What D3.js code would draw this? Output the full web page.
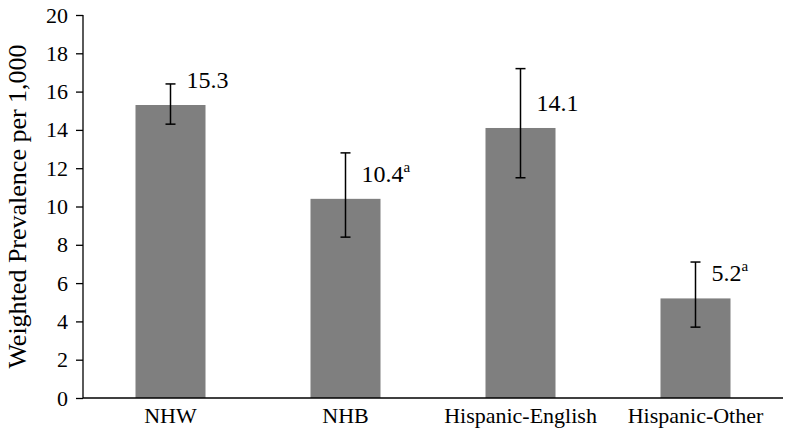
<!DOCTYPE html>
<html>
<head>
<meta charset="utf-8">
<script src="https://cdn.jsdelivr.net/npm/d3@7"></script>
<style>
  body { margin: 0; background: #fff; }
</style>
</head>
<body>
<svg id="chart"></svg>
<script>
const categories = ['NHW', 'NHB', 'Hispanic-English', 'Hispanic-Other']
const prevalence = [15.3, 10.4, 14.1, 5.2]
const lowerCI = [14.3, 8.4, 11.5, 3.7]
const upperCI = [16.4, 12.8, 17.2, 7.1]
const superscripts = ['', 'a', '', 'a']
const yTicks = [0, 2, 4, 6, 8, 10, 12, 14, 16, 18, 20]

const width = 786
const height = 432
const margin = { top: 15, right: 3, bottom: 34, left: 83 }
const serif = "'Liberation Serif', 'Times New Roman', Times, 'DejaVu Serif', serif"

const svg = d3.select('#chart').attr('width', width).attr('height', height)

const x = d3.scaleBand()
  .domain(categories)
  .range([margin.left, width - margin.right])
  .paddingInner(0.6)
  .paddingOuter(0.3)

const y = d3.scaleLinear()
  .domain([0, 20])
  .range([height - margin.bottom, margin.top])

const rows = categories.map((c, i) => ({
  cat: c, val: prevalence[i], lo: lowerCI[i], hi: upperCI[i], sup: superscripts[i]
}))

// bars
svg.append('g').selectAll('rect').data(rows).enter().append('rect')
  .attr('x', d => x(d.cat))
  .attr('y', d => y(d.val))
  .attr('width', x.bandwidth())
  .attr('height', d => y(0) - y(d.val))
  .attr('fill', '#7f7f7f')

// y axis
const yAxis = svg.append('g')
  .attr('transform', `translate(${margin.left},0)`)
  .call(d3.axisLeft(y).tickValues(yTicks).tickSize(7).tickPadding(8))
yAxis.attr('font-family', null).attr('font-size', null)
yAxis.selectAll('path, line').attr('stroke', '#000').attr('stroke-width', 1.3)
yAxis.select('.domain').attr('d', `M0,${y(20)}V${y(0)}`)
yAxis.selectAll('text').style('font-size', '22px').style('font-family', serif).attr('fill', '#000')

// x axis
const xAxis = svg.append('g')
  .attr('transform', `translate(0,${y(0)})`)
  .call(d3.axisBottom(x).tickSize(0).tickPadding(9))
xAxis.attr('font-family', null).attr('font-size', null)
xAxis.select('.domain').attr('stroke', '#000').attr('stroke-width', 1.3)
  .attr('d', `M${margin.left},0H${width - margin.right}`)
xAxis.selectAll('text').style('font-size', '22px').style('font-family', serif).attr('fill', '#000')

// error bars
const err = svg.append('g').attr('stroke', '#000').attr('stroke-width', 1.5)
rows.forEach(d => {
  const cx = x(d.cat) + x.bandwidth() / 2
  err.append('line').attr('x1', cx).attr('x2', cx).attr('y1', y(d.lo)).attr('y2', y(d.hi))
  err.append('line').attr('x1', cx - 5).attr('x2', cx + 5).attr('y1', y(d.lo)).attr('y2', y(d.lo))
  err.append('line').attr('x1', cx - 5).attr('x2', cx + 5).attr('y1', y(d.hi)).attr('y2', y(d.hi))
})

// value labels
const labels = svg.append('g').selectAll('text').data(rows).enter().append('text')
  .attr('x', d => x(d.cat) + x.bandwidth() / 2 + 16)
  .attr('y', d => y(d.val) - 17)
  .style('font-family', serif)
  .style('font-size', '24px')
labels.append('tspan').text(d => d.val.toFixed(1))
labels.append('tspan').style('font-size', '15px').attr('dy', -10).text(d => d.sup)

// y axis title
svg.append('text')
  .attr('transform', `translate(26,${(y(0) + y(20)) / 2}) rotate(-90)`)
  .attr('text-anchor', 'middle')
  .style('font-family', serif)
  .style('font-size', '26px')
  .text('Weighted Prevalence per 1,000')
</script>
</body>
</html>
